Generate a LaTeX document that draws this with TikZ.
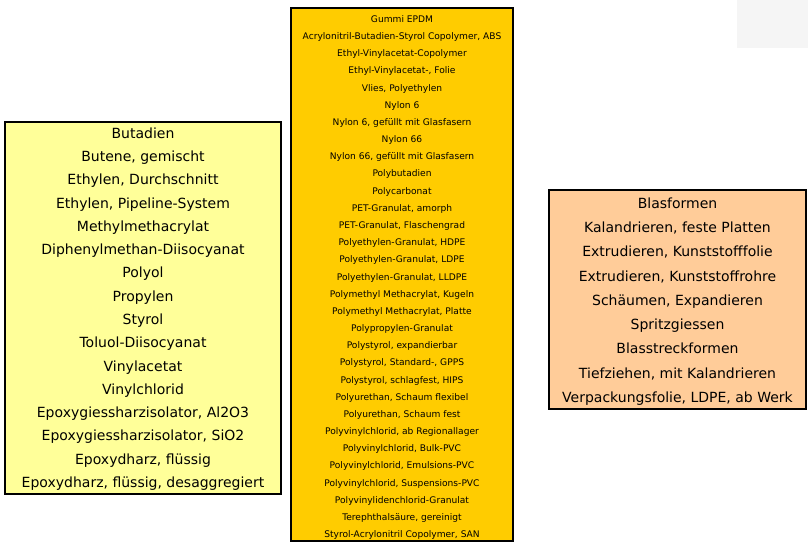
\documentclass[tikz,border=0pt]{standalone}
\usepackage{fontspec}
\setmainfont{DejaVu Sans}

\definecolor{hellgelb}{HTML}{FFFF99}
\definecolor{goldgelb}{HTML}{FFCC00}
\definecolor{lachs}{HTML}{FFCC99}
\definecolor{hellgrau}{HTML}{F5F5F5}

\tikzset{
  kasten/.style={draw, line width=1.6pt, inner sep=0pt},
  liste/.style={align=center, inner sep=0pt},
  gross/.style={font=\fontsize{14}{23.27}\selectfont},
  klein/.style={font=\fontsize{9.1}{17.17}\selectfont}
}

\begin{document}
\begin{tikzpicture}[x=1pt,y=-1pt]
  \useasboundingbox (0,0) rectangle (808,545);
  \fill[hellgrau] (737,0) rectangle (808,48); % graues Feld oben rechts
  % Rohstoffe
  \node[kasten, fill=hellgelb, minimum width=276pt, minimum height=372pt] (rohstoffe) at (143,308) {};
  \node[liste, gross, yshift=-1pt] (rohstoffliste) at (rohstoffe) {Butadien\\Butene, gemischt\\Ethylen, Durchschnitt\\Ethylen, Pipeline-System\\Methylmethacrylat\\Diphenylmethan-Diisocyanat\\Polyol\\Propylen\\Styrol\\Toluol-Diisocyanat\\Vinylacetat\\Vinylchlorid\\Epoxygiessharzisolator, Al2O3\\Epoxygiessharzisolator, SiO2\\Epoxydharz, flüssig\\Epoxydharz, flüssig, desaggregiert};
  % Kunststoffe
  \node[kasten, fill=goldgelb, minimum width=222pt, minimum height=533pt] (kunststoffe) at (402,274.5) {};
  \node[liste, klein, yshift=-3pt] (kunststoffliste) at (kunststoffe) {Gummi EPDM\\Acrylonitril-Butadien-Styrol Copolymer, ABS\\Ethyl-Vinylacetat-Copolymer\\Ethyl-Vinylacetat-, Folie\\Vlies, Polyethylen\\Nylon 6\\Nylon 6, gefüllt mit Glasfasern\\Nylon 66\\Nylon 66, gefüllt mit Glasfasern\\Polybutadien\\Polycarbonat\\PET-Granulat, amorph\\PET-Granulat, Flaschengrad\\Polyethylen-Granulat, HDPE\\Polyethylen-Granulat, LDPE\\Polyethylen-Granulat, LLDPE\\Polymethyl Methacrylat, Kugeln\\Polymethyl Methacrylat, Platte\\Polypropylen-Granulat\\Polystyrol, expandierbar\\Polystyrol, Standard-, GPPS\\Polystyrol, schlagfest, HIPS\\Polyurethan, Schaum flexibel\\Polyurethan, Schaum fest\\Polyvinylchlorid, ab Regionallager\\Polyvinylchlorid, Bulk-PVC\\Polyvinylchlorid, Emulsions-PVC\\Polyvinylchlorid, Suspensions-PVC\\Polyvinylidenchlorid-Granulat\\Terephthalsäure, gereinigt\\Styrol-Acrylonitril Copolymer, SAN};
  % Verarbeitung
  \node[kasten, fill=lachs, minimum width=257pt, minimum height=219pt] (verarbeitung) at (677.5,299.5) {};
  \node[liste, font=\fontsize{14}{24.25}\selectfont, yshift=-2pt] (verarbeitungsliste) at (verarbeitung) {Blasformen\\Kalandrieren, feste Platten\\Extrudieren, Kunststofffolie\\Extrudieren, Kunststoffrohre\\Schäumen, Expandieren\\Spritzgiessen\\Blasstreckformen\\Tiefziehen, mit Kalandrieren\\Verpackungsfolie, LDPE, ab Werk};
\end{tikzpicture}
\end{document}
